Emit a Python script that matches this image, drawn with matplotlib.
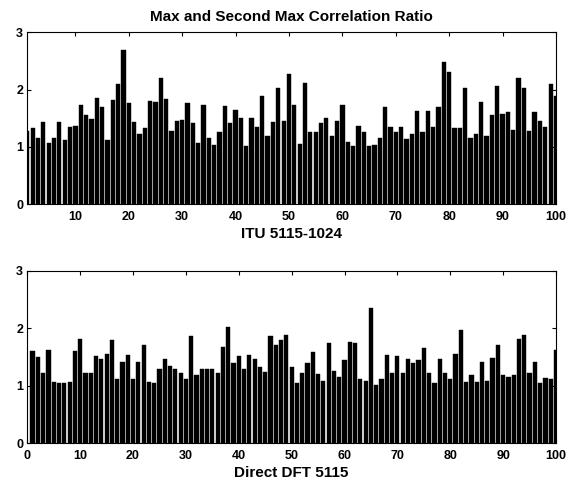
import numpy as np
import matplotlib.pyplot as plt

plt.rcParams['font.family'] = ['Liberation Sans', 'DejaVu Sans']
plt.rcParams['font.weight'] = 'bold'

# ratio values, bars 1..100
itu_ratio = [
    1.28, 1.32, 1.16, 1.43, 1.07, 1.15, 1.43, 1.11, 1.34, 1.37,
    1.73, 1.55, 1.49, 1.86, 1.69, 1.11, 1.82, 2.09, 2.69, 1.77,
    1.43, 1.22, 1.32, 1.80, 1.79, 2.20, 1.83, 1.27, 1.45, 1.47,
    1.77, 1.41, 1.07, 1.73, 1.15, 1.03, 1.25, 1.71, 1.41, 1.65,
    1.51, 1.01, 1.50, 1.34, 1.88, 1.19, 1.43, 2.02, 1.45, 2.28,
    1.73, 1.05, 2.11, 1.26, 1.26, 1.41, 1.51, 1.18, 1.45, 1.73,
    1.09, 1.01, 1.37, 1.25, 1.01, 1.03, 1.16, 1.69, 1.35, 1.25,
    1.35, 1.13, 1.23, 1.62, 1.25, 1.62, 1.35, 1.69, 2.48, 2.30,
    1.33, 1.33, 2.02, 1.15, 1.23, 1.79, 1.19, 1.56, 2.07, 1.57,
    1.61, 1.30, 2.21, 2.02, 1.27, 1.61, 1.45, 1.35, 2.09, 1.88,
]
dft_ratio = [
    1.60, 1.50, 1.22, 1.62, 1.07, 1.04, 1.05, 1.07, 1.60, 1.82,
    1.22, 1.22, 1.52, 1.46, 1.56, 1.80, 1.12, 1.41, 1.53, 1.11,
    1.41, 1.71, 1.07, 1.05, 1.30, 1.46, 1.34, 1.30, 1.23, 1.11,
    1.87, 1.18, 1.29, 1.29, 1.30, 1.22, 1.67, 2.02, 1.39, 1.51,
    1.29, 1.53, 1.47, 1.33, 1.24, 1.87, 1.71, 1.80, 1.89, 1.33,
    1.05, 1.22, 1.39, 1.58, 1.20, 1.09, 1.74, 1.26, 1.16, 1.44,
    1.76, 1.74, 1.11, 1.09, 2.35, 1.01, 1.12, 1.53, 1.22, 1.51,
    1.22, 1.46, 1.39, 1.44, 1.65, 1.22, 1.04, 1.46, 1.22, 1.12,
    1.55, 1.97, 1.07, 1.18, 1.07, 1.42, 1.09, 1.48, 1.71, 1.18,
    1.16, 1.18, 1.81, 1.89, 1.23, 1.42, 1.04, 1.14, 1.11, 1.62,
]
top_ticks = [10, 20, 30, 40, 50, 60, 70, 80, 90, 100]
bottom_ticks = [0, 10, 20, 30, 40, 50, 60, 70, 80, 90, 100]
y_ticks = [0, 1, 2, 3]

idx = np.arange(1, 101)

fig = plt.figure(figsize=(5.74, 4.83), dpi=100)
ax1 = fig.add_axes([0.0476, 0.5776, 0.921, 0.3555])
ax2 = fig.add_axes([0.0476, 0.0822, 0.921, 0.3573])


def style(ax, xticks, xlim):
    ax.set_xlim(*xlim)
    ax.set_ylim(0, 3)
    ax.set_xticks(xticks)
    ax.set_yticks(y_ticks)
    ax.tick_params(direction='in', top=True, right=True, length=3,
                   width=0.8, labelsize=9, pad=3)
    ax.tick_params(axis='x', pad=5)
    for s in ax.spines.values():
        s.set_linewidth(0.8)
    for lab in ax.get_xticklabels() + ax.get_yticklabels():
        lab.set_fontweight('bold')


ax1.bar(idx, itu_ratio, width=0.8, color='black', edgecolor='black', linewidth=0.3)
style(ax1, top_ticks, (1, 100))
ax1.set_title('Max and Second Max Correlation Ratio', fontsize=11,
              fontweight='bold', pad=8)
ax1.set_xlabel('ITU 5115-1024', fontsize=11, fontweight='bold', labelpad=3)

ax2.bar(idx, dft_ratio, width=0.8, color='black', edgecolor='black', linewidth=0.3)
style(ax2, bottom_ticks, (0, 100))
ax2.set_xlabel('Direct DFT 5115', fontsize=11, fontweight='bold', labelpad=3)

fig.savefig('out.png', dpi=100)
